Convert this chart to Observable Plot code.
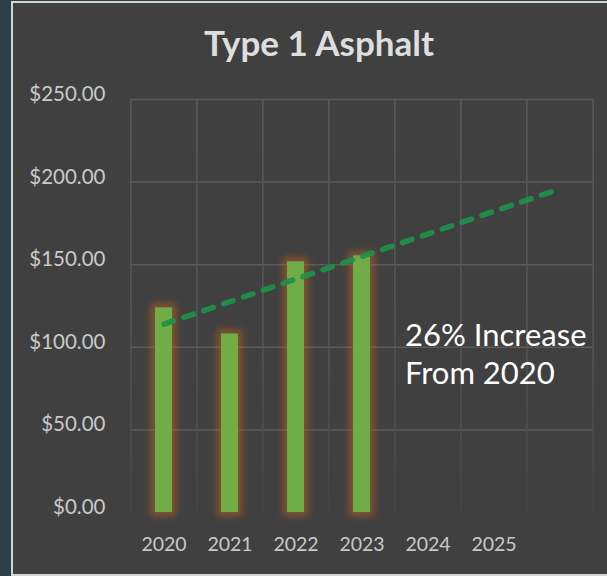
<!DOCTYPE html>
<html>
<head>
<meta charset="utf-8">
<script src="https://cdn.jsdelivr.net/npm/d3@7"></script>
<script src="https://cdn.jsdelivr.net/npm/@observablehq/plot@0.6"></script>
<style>
  html, body { margin: 0; padding: 0; }
  body { width: 607px; height: 576px; background: #2a3f48; position: relative; overflow: hidden; font-family: Lato, "Open Sans", sans-serif; }
  #frame { position: absolute; left: 11px; top: 1px; width: 596px; height: 575px; box-sizing: border-box;
           border-left: 2px solid #d4d4d4; border-top: 2px solid #d4d4d4; border-bottom: 2px solid #d4d4d4; background: #404040; }
  #chart { position: absolute; left: 0; top: 0; }
  #title { position: absolute; left: 119px; width: 400px; top: 21px; text-align: center; font: bold 35px Lato, sans-serif; color: #dedede; line-height: 42px; }
  #note { position: absolute; left: 405px; top: 316px; font: 31px Lato, sans-serif; color: #ffffff; line-height: 37.5px; white-space: nowrap; }
</style>
</head>
<body>
<div id="frame"></div>
<div id="chart"></div>
<div id="title">Type 1 Asphalt</div>
<div id="note">26% Increase<br>From 2020</div>
<script>
const categories = ["2020", "2021", "2022", "2023", "2024", "2025", ""];
const years = ["2020", "2021", "2022", "2023"];
const prices = [123.8, 108, 151.7, 155.3];
const trendYears = ["2020", ""];
const trendValues = [114, 196];
const yTicks = [0, 50, 100, 150, 200, 250];
const gridTicks = [50, 100, 150, 200, 250];

const W = 607, H = 576, ML = 130, MR = 13, MT = 99, MB = 64;
const pInner = 0.735;
const step = (W - ML - MR) / categories.length;

const bars = years.map((y, i) => ({year: y, price: prices[i]}));
const trend = trendYears.map((y, i) => ({year: y, value: trendValues[i]}));

const plot = Plot.plot({
  width: W, height: H,
  marginLeft: ML, marginRight: MR, marginTop: MT, marginBottom: MB,
  style: {background: "transparent", fontFamily: "Lato, sans-serif", fontSize: "19.5px", color: "#c9c9c9", overflow: "visible"},
  x: {domain: categories, paddingInner: pInner, paddingOuter: pInner / 2, label: null},
  y: {domain: [0, 250], label: null},
  marks: [
    Plot.ruleY(gridTicks, {stroke: "#5a5a5a", strokeWidth: 1.5}),
    Plot.ruleX(categories, {x: d => d, y1: 0, y2: 250, dx: -step / 2, stroke: "#5a5a5a", strokeWidth: 1.5, ariaDescription: "vgrid"}),
    Plot.ruleX(categories.slice(-1), {x: d => d, y1: 0, y2: 250, dx: step / 2, stroke: "#5a5a5a", strokeWidth: 1.5, ariaDescription: "vgrid"}),
    Plot.barY(bars, {x: "year", y: "price", fill: "#70ad47", ariaDescription: "glowbars"}),
    Plot.line(trend, {x: "year", y: "value", stroke: "#1d9149", strokeOpacity: 0.92, strokeWidth: 5.5, strokeDasharray: "10,11", strokeLinecap: "round"}),
    Plot.axisY({ticks: yTicks, tickFormat: d => "$" + d.toFixed(2), tickSize: 0, tickPadding: 25, dy: -5, fontSize: 20.5, label: null}),
    Plot.axisX({tickSize: 0, tickPadding: 25, label: null})
  ]
});

const svg = d3.select(plot);
const defs = svg.insert("defs", ":first-child");
const f = defs.append("filter").attr("id", "glow")
  .attr("filterUnits", "userSpaceOnUse").attr("x", 0).attr("y", 0).attr("width", W).attr("height", H);
f.append("feMorphology").attr("in", "SourceAlpha").attr("operator", "dilate").attr("radius", 4).attr("result", "d");
f.append("feGaussianBlur").attr("in", "d").attr("stdDeviation", 3.5).attr("result", "b");
f.append("feFlood").attr("flood-color", "#c9651f").attr("flood-opacity", 0.5).attr("result", "c");
f.append("feComposite").attr("in", "c").attr("in2", "b").attr("operator", "in").attr("result", "g");
const m = f.append("feMerge");
m.append("feMergeNode").attr("in", "g");
m.append("feMergeNode").attr("in", "SourceGraphic");

const g = defs.append("linearGradient").attr("id", "vgrad")
  .attr("gradientUnits", "userSpaceOnUse").attr("x1", 0).attr("x2", 0).attr("y1", MT).attr("y2", H - MB);
g.append("stop").attr("offset", "0").attr("stop-color", "#5a5a5a");
g.append("stop").attr("offset", "0.55").attr("stop-color", "#575757");
g.append("stop").attr("offset", "1").attr("stop-color", "#454545");

svg.selectAll("g[aria-description=glowbars]").attr("filter", "url(#glow)");
svg.selectAll("g[aria-description=vgrid]").attr("stroke", "url(#vgrad)");
svg.selectAll("g[aria-description=vgrid] line").attr("stroke", "url(#vgrad)");

document.getElementById("chart").appendChild(plot);
</script>
</body>
</html>
